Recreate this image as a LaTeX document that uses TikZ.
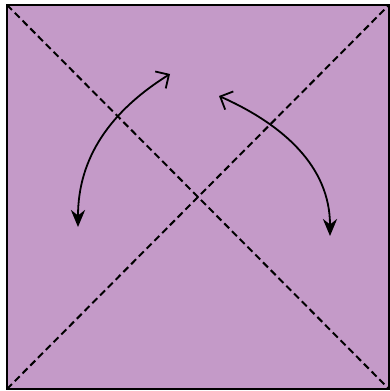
\documentclass[tikz,border=0pt]{standalone}
\usepackage{xcolor}
\usepackage{tikz}
\usetikzlibrary{arrows.meta,calc}
\definecolor{foldpaper}{RGB}{196,154,200}
\tikzstyle{paper} = [draw=black, line width=2pt, fill=foldpaper]
\tikzstyle{crease} = [black, line width=2pt, dash pattern=on 7pt off 4pt]
\tikzstyle{turn} = [{Straight Barb[length=3.5mm,width=7mm]}-{Stealth[length=6mm,width=5mm]}, line width=1.8pt, black]

\begin{document}
\begin{tikzpicture}[x=1pt,y=1pt]
\useasboundingbox (0,0) rectangle (390,391);
\coordinate (sw) at (7,2);
\coordinate (ne) at (389,386);
\coordinate (nw) at (7,386);
\coordinate (se) at (389,2);
\draw[paper] (sw) rectangle (ne);
\draw[crease] (nw) -- (se);
\draw[crease] (sw) -- (ne);
% swap arrows
\coordinate (lefttop) at (170,317);
\coordinate (leftlow) at (78,164);
\coordinate (righttop) at (219,295);
\coordinate (rightlow) at (330,155);
\draw[turn] (lefttop) to[out=212, in=90] (leftlow);
\draw[turn] (righttop) to[out=336, in=90] (rightlow);
\end{tikzpicture}
\end{document}
